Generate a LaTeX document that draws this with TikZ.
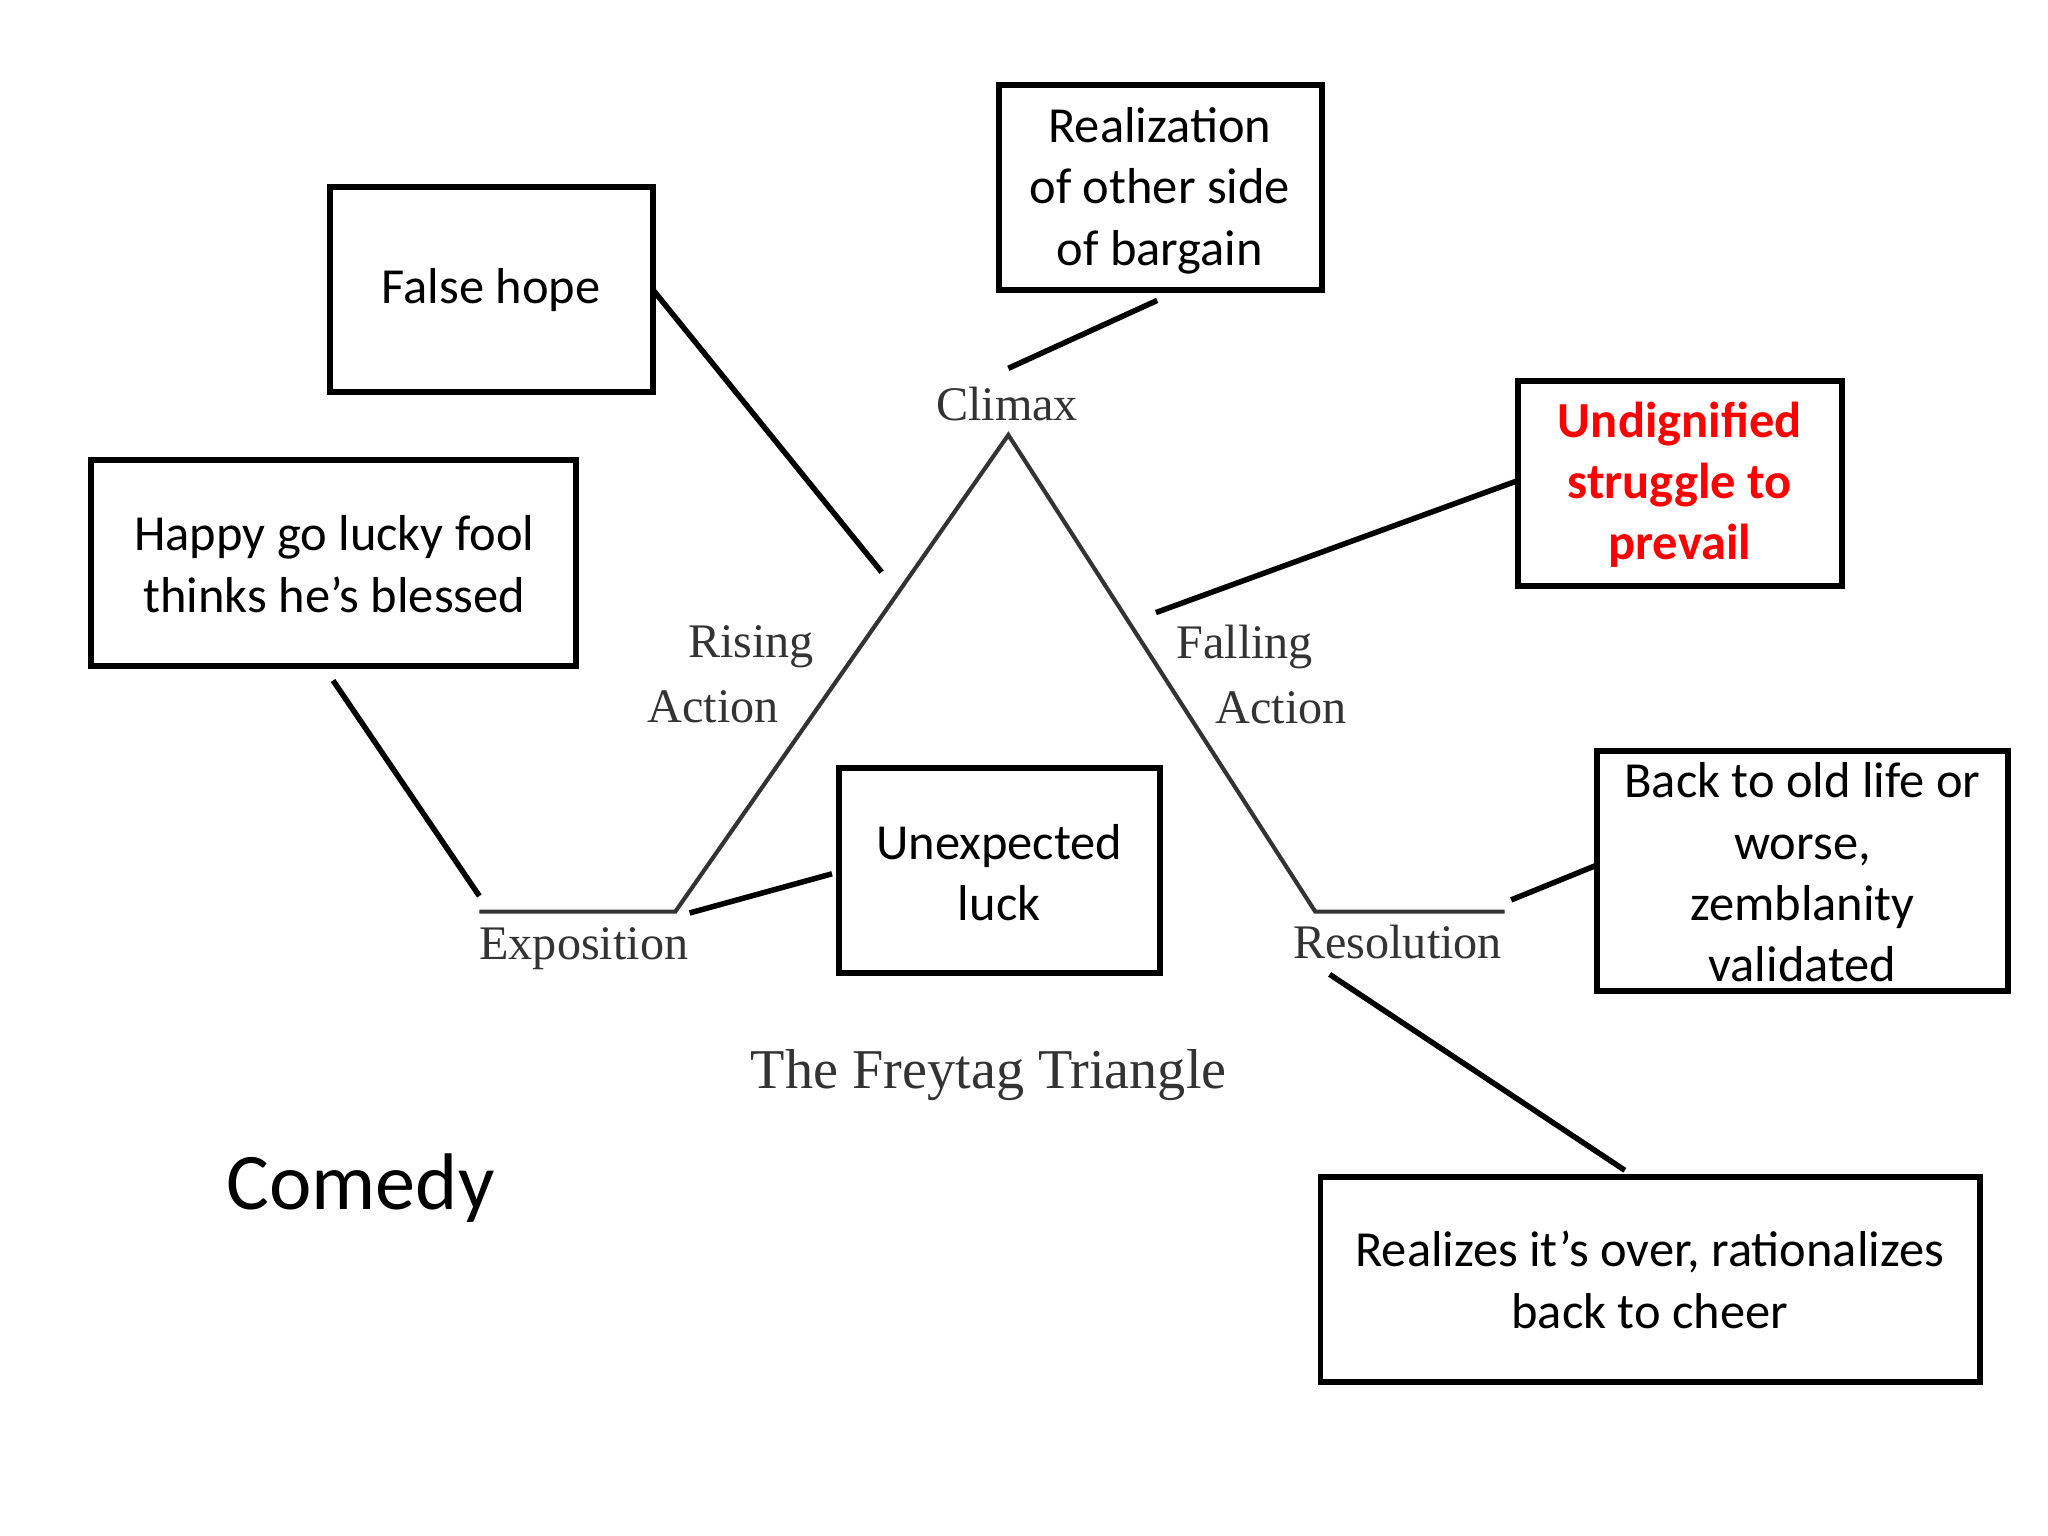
\documentclass[tikz,border=0pt]{standalone}
\usepackage{fontspec}
\setmainfont{Liberation Serif}
\newfontfamily\calfont{Carlito}
\begin{document}
\begin{tikzpicture}[x=0.02cm,y=-0.02cm,
 box/.style={line width=2.6pt,inner sep=0pt,font=\calfont\fontsize{22}{26.7}\selectfont,align=center},
 con/.style={line width=2.4pt},
 lab/.style={font=\fontsize{21}{26}\selectfont,text=black!80,align=center},
 tri/.style={line width=1.8pt,black!80}]
\useasboundingbox (0,0) rectangle (1568,1176);
\draw[line width=2.6pt] (253,143) rectangle (500,300);
\node[box] (fh) at (376,222) {False hope};
\draw[line width=2.6pt] (765,65) rectangle (1012,222);
\node[box] (rz) at (888,146) {Realization\\of other side\\of bargain};
\draw[line width=2.6pt] (70,352) rectangle (441,510);
\node[box] (hp) at (256,432) {Happy go lucky fool\\thinks he’s blessed};
\draw[line width=2.6pt] (1162,292) rectangle (1410,449);
\node[box,text=red,font=\calfont\bfseries\fontsize{22}{26.7}\selectfont] (ud) at (1286,371) {Undignified\\struggle to\\prevail};
\draw[line width=2.6pt] (642,588) rectangle (888,745);
\node[box] (ul) at (765,668) {Unexpected\\luck};
\draw[line width=2.6pt] (1223,575) rectangle (1537,759);
\node[box] (bo) at (1380,668) {Back to old life or\\worse,\\zemblanity\\validated};
\draw[line width=2.6pt] (1011,901) rectangle (1516,1058);
\node[box] (rc) at (1263,980) {Realizes it’s over, rationalizes\\back to cheer};
\coordinate (e0) at (367,698); \coordinate (e1) at (517,698); \coordinate (top) at (772,333);
\coordinate (r0) at (1007,698); \coordinate (r1) at (1152,698);
\draw[tri] (e0) -- (e1) -- (top) -- (r0) -- (r1);
\node[lab] (climax) at (771,309) {Climax};
\node[lab] (ra1) at (575,495) {Rising};
\node[lab] (ra2) at (546,541) {Action};
\node[lab] (fa1) at (953,495) {Falling};
\node[lab] (fa2) at (981,542) {Action};
\node[lab] (ex) at (447,726) {Exposition};
\node[lab] (res) at (1070,721) {Resolution};
\node[lab,font=\fontsize{24.5}{30}\selectfont] (ft) at (757,823) {The Freytag Triangle};
\node[font=\calfont\fontsize{35}{42}\selectfont] (com) at (276,910) {Comedy};
\coordinate (a1) at (500,222); \coordinate (a2) at (675,438);
\coordinate (b1) at (886,230); \coordinate (b2) at (772,282);
\coordinate (c1) at (1162,368); \coordinate (c2) at (885,469);
\coordinate (d1) at (255,521); \coordinate (d2) at (367,686);
\coordinate (f1) at (637,669); \coordinate (f2) at (528,699);
\coordinate (g1) at (1221,663); \coordinate (g2) at (1157,689);
\coordinate (h1) at (1018,746); \coordinate (h2) at (1244,896);
\draw[con] (a1)--(a2); \draw[con] (b1)--(b2); \draw[con] (c1)--(c2);
\draw[con] (d1)--(d2); \draw[con] (f1)--(f2); \draw[con] (g1)--(g2); \draw[con] (h1)--(h2);
\end{tikzpicture}
\end{document}
